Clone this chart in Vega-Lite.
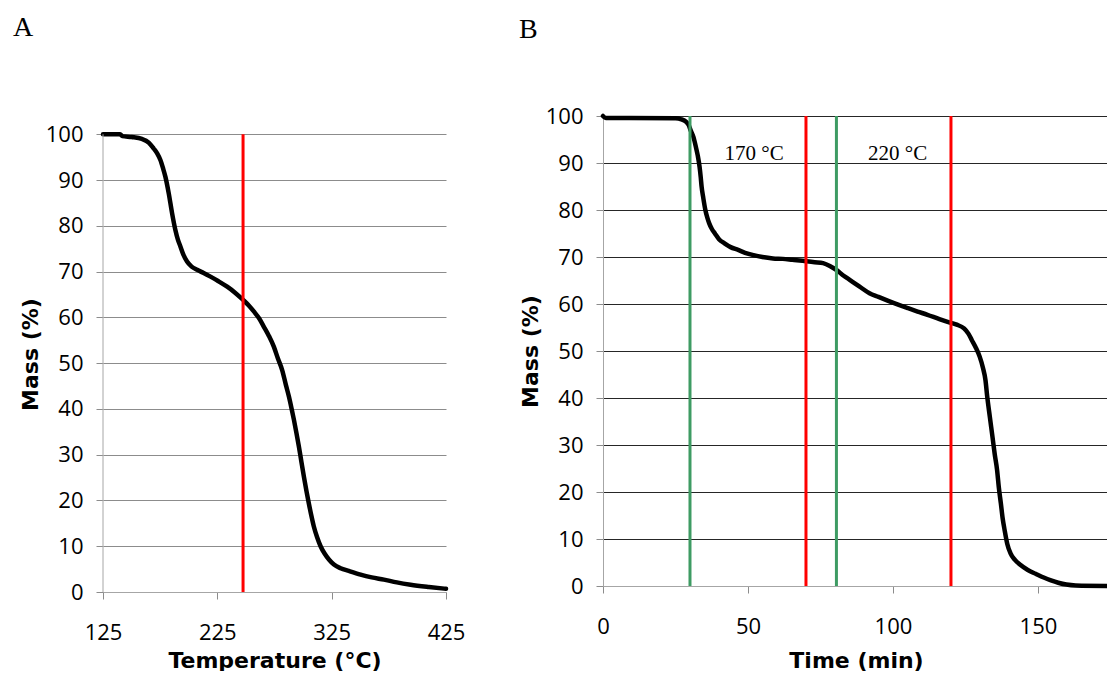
{
  "$schema": "https://vega.github.io/schema/vega-lite/v6.json",
  "background": "#ffffff",
  "padding": {"left": 13, "top": 14, "right": 0, "bottom": 0},
  "config": {
    "view": {"stroke": null},
    "concat": {"spacing": 54},
    "axis": {
      "labelFont": "Open Sans",
      "labelFontSize": 22,
      "labelColor": "#000000",
      "titleFont": "DejaVu Sans",
      "titleFontSize": 22,
      "titleFontWeight": "bold",
      "titleColor": "#000000",
      "tickSize": 7,
      "tickColor": "#8c8c8c",
      "tickWidth": 1,
      "domainColor": "#a6a6a6",
      "domainWidth": 1,
      "labelOverlap": false,
      "labelFlush": false
    },
    "title": {
      "font": "Liberation Serif",
      "fontSize": 28,
      "fontWeight": "normal",
      "color": "#000000",
      "anchor": "start",
      "frame": "group",
      "baseline": "alphabetic"
    }
  },
  "datasets": {
    "curveA": [
      {"temperature": 125, "mass": 100},
      {"temperature": 140, "mass": 100},
      {"temperature": 142, "mass": 99.6},
      {"temperature": 150, "mass": 99.4},
      {"temperature": 159, "mass": 99.0},
      {"temperature": 165, "mass": 98.2},
      {"temperature": 169.3, "mass": 96.9},
      {"temperature": 172.5, "mass": 95.8},
      {"temperature": 175.2, "mass": 94.4},
      {"temperature": 177.5, "mass": 92.6},
      {"temperature": 179.6, "mass": 90.7},
      {"temperature": 182.5, "mass": 87.1},
      {"temperature": 185.4, "mass": 82.8},
      {"temperature": 188.3, "mass": 79.1},
      {"temperature": 190.5, "mass": 77.0},
      {"temperature": 192.7, "mass": 75.5},
      {"temperature": 195.5, "mass": 73.6},
      {"temperature": 198.5, "mass": 72.2},
      {"temperature": 202.5, "mass": 71.1},
      {"temperature": 207.3, "mass": 70.4},
      {"temperature": 213, "mass": 69.7},
      {"temperature": 219, "mass": 68.9},
      {"temperature": 226, "mass": 67.9},
      {"temperature": 233.6, "mass": 66.7},
      {"temperature": 240.5, "mass": 65.4},
      {"temperature": 247.6, "mass": 63.8},
      {"temperature": 252.5, "mass": 62.6},
      {"temperature": 256.9, "mass": 61.3},
      {"temperature": 261.5, "mass": 59.8},
      {"temperature": 265.6, "mass": 58.0},
      {"temperature": 270, "mass": 56.0},
      {"temperature": 274.4, "mass": 53.6},
      {"temperature": 278, "mass": 51.0},
      {"temperature": 281.7, "mass": 48.5},
      {"temperature": 285, "mass": 45.2},
      {"temperature": 287.6, "mass": 42.7},
      {"temperature": 290, "mass": 40.0},
      {"temperature": 292, "mass": 37.6},
      {"temperature": 294.2, "mass": 34.7},
      {"temperature": 296.3, "mass": 31.8},
      {"temperature": 298.5, "mass": 28.5},
      {"temperature": 300.7, "mass": 25.2},
      {"temperature": 303, "mass": 22.0},
      {"temperature": 305, "mass": 19.4},
      {"temperature": 307.3, "mass": 16.6},
      {"temperature": 309.4, "mass": 14.3},
      {"temperature": 312.2, "mass": 12.0},
      {"temperature": 315.3, "mass": 10.0},
      {"temperature": 318.8, "mass": 8.4},
      {"temperature": 322.6, "mass": 7.1},
      {"temperature": 327, "mass": 6.0},
      {"temperature": 332.8, "mass": 5.2},
      {"temperature": 340, "mass": 4.6},
      {"temperature": 350.3, "mass": 3.8},
      {"temperature": 360, "mass": 3.2},
      {"temperature": 370.7, "mass": 2.7},
      {"temperature": 382, "mass": 2.1},
      {"temperature": 394, "mass": 1.6},
      {"temperature": 410, "mass": 1.1},
      {"temperature": 425, "mass": 0.7}
    ],
    "markerA": [
      {"temperature": 247.5}
    ],
    "curveB": [
      {"time": 0, "mass": 100},
      {"time": 1, "mass": 99.6},
      {"time": 25, "mass": 99.5},
      {"time": 27, "mass": 99.3},
      {"time": 28.6, "mass": 98.8},
      {"time": 29.6, "mass": 98.0},
      {"time": 30.2, "mass": 97.0},
      {"time": 31.2, "mass": 95.5},
      {"time": 32, "mass": 93.5},
      {"time": 32.7, "mass": 91.5},
      {"time": 33.3, "mass": 89.2},
      {"time": 33.7, "mass": 87.0},
      {"time": 34, "mass": 85.0},
      {"time": 34.6, "mass": 82.5},
      {"time": 35.3, "mass": 80.0},
      {"time": 36, "mass": 78.3},
      {"time": 36.6, "mass": 77.2},
      {"time": 37.5, "mass": 76.0},
      {"time": 38.6, "mass": 75.0},
      {"time": 40, "mass": 73.8},
      {"time": 41.9, "mass": 72.9},
      {"time": 44, "mass": 72.1},
      {"time": 46.6, "mass": 71.5},
      {"time": 49, "mass": 70.9},
      {"time": 51.9, "mass": 70.4},
      {"time": 55, "mass": 70.0},
      {"time": 58.6, "mass": 69.7},
      {"time": 62, "mass": 69.6},
      {"time": 65.3, "mass": 69.4},
      {"time": 70.2, "mass": 69.1},
      {"time": 73, "mass": 68.9},
      {"time": 75.9, "mass": 68.7},
      {"time": 78.5, "mass": 68.0},
      {"time": 80.6, "mass": 67.2},
      {"time": 83, "mass": 66.0},
      {"time": 85.2, "mass": 65.1},
      {"time": 88.5, "mass": 63.7},
      {"time": 91.9, "mass": 62.3},
      {"time": 95, "mass": 61.5},
      {"time": 98.6, "mass": 60.6},
      {"time": 102, "mass": 59.8},
      {"time": 105.2, "mass": 59.1},
      {"time": 108.5, "mass": 58.4},
      {"time": 111.9, "mass": 57.7},
      {"time": 116, "mass": 56.8},
      {"time": 119.9, "mass": 56.0},
      {"time": 122, "mass": 55.6},
      {"time": 124.5, "mass": 54.8},
      {"time": 126, "mass": 53.7},
      {"time": 127.2, "mass": 52.3},
      {"time": 128.5, "mass": 50.8},
      {"time": 129.9, "mass": 48.8},
      {"time": 131, "mass": 46.5},
      {"time": 131.9, "mass": 43.8},
      {"time": 132.5, "mass": 40.3},
      {"time": 133.4, "mass": 36.0},
      {"time": 134.3, "mass": 31.8},
      {"time": 135.1, "mass": 28.0},
      {"time": 135.9, "mass": 24.7},
      {"time": 136.5, "mass": 21.0},
      {"time": 137.2, "mass": 17.6},
      {"time": 137.8, "mass": 14.5},
      {"time": 138.5, "mass": 11.9},
      {"time": 139.4, "mass": 9.0},
      {"time": 140.5, "mass": 7.0},
      {"time": 142, "mass": 5.6},
      {"time": 143.9, "mass": 4.5},
      {"time": 146.5, "mass": 3.4},
      {"time": 149.2, "mass": 2.6},
      {"time": 152, "mass": 1.8},
      {"time": 154.5, "mass": 1.2},
      {"time": 157, "mass": 0.7},
      {"time": 159.8, "mass": 0.3},
      {"time": 163, "mass": 0.1},
      {"time": 174.5, "mass": 0}
    ],
    "startB": [
      {"time": 30},
      {"time": 80.5}
    ],
    "endB": [
      {"time": 70},
      {"time": 120}
    ],
    "labelsB": [
      {"time": 52.1, "mass": 90.6, "label": "170 °C"},
      {"time": 101.6, "mass": 90.6, "label": "220 °C"}
    ]
  },
  "hconcat": [
    {
      "width": 343,
      "height": 476,
      "title": {"text": "A", "dx": -90, "offset": 74},
      "layer": [
        {
          "data": {"name": "curveA"},
          "mark": {"type": "line", "color": "#000000", "strokeWidth": 4.5, "interpolate": "monotone", "strokeCap": "round"},
          "encoding": {
            "x": {
              "field": "temperature", "type": "quantitative",
              "scale": {"domain": [125, 425], "nice": false, "zero": false},
              "axis": {"values": [125, 225, 325, 425], "title": "Temperature (°C)", "grid": false, "labelPadding": 23, "titlePadding": 7}
            },
            "y": {
              "field": "mass", "type": "quantitative",
              "scale": {"domain": [0, 104], "nice": false},
              "axis": {"values": [0, 10, 20, 30, 40, 50, 60, 70, 80, 90, 100], "title": "Mass (%)", "grid": true, "gridColor": "#8c8c8c", "domain": false, "labelPadding": 13, "titlePadding": 2.5}
            }
          }
        },
        {
          "data": {"values": [{}]},
          "mark": {"type": "rule", "color": "#a6a6a6", "strokeWidth": 1},
          "encoding": {
            "x": {"datum": 125, "type": "quantitative"},
            "y": {"datum": 0, "type": "quantitative"},
            "y2": {"datum": 100}
          }
        },
        {
          "data": {"name": "markerA"},
          "mark": {"type": "rule", "color": "#ff0000", "strokeWidth": 3},
          "encoding": {
            "x": {"field": "temperature", "type": "quantitative"},
            "y": {"datum": 0, "type": "quantitative"},
            "y2": {"datum": 100}
          }
        }
      ]
    },
    {
      "width": 506,
      "height": 470,
      "title": {"text": "B", "dx": -84, "offset": 61},
      "layer": [
        {
          "data": {"name": "curveB"},
          "mark": {"type": "line", "color": "#000000", "strokeWidth": 4.5, "interpolate": "monotone", "strokeCap": "round"},
          "encoding": {
            "x": {
              "field": "time", "type": "quantitative",
              "scale": {"domain": [0, 174.5], "nice": false, "zero": false},
              "axis": {"values": [0, 50, 100, 150], "title": "Time (min)", "grid": false, "labelPadding": 23, "titlePadding": 13}
            },
            "y": {
              "field": "mass", "type": "quantitative",
              "scale": {"domain": [0, 100], "nice": false},
              "axis": {
                "values": [0, 10, 20, 30, 40, 50, 60, 70, 80, 90, 100],
                "title": "Mass (%)", "grid": true,
                "gridColor": {"condition": {"test": "datum.value === 0", "value": "#a6a6a6"}, "value": "#262626"},
                "labelPadding": 13, "titlePadding": 2.5
              }
            }
          }
        },
        {
          "data": {"name": "startB"},
          "mark": {"type": "rule", "color": "#3e9b63", "strokeWidth": 3},
          "encoding": {
            "x": {"field": "time", "type": "quantitative"},
            "y": {"datum": 0, "type": "quantitative"},
            "y2": {"datum": 100}
          }
        },
        {
          "data": {"name": "endB"},
          "mark": {"type": "rule", "color": "#ff0000", "strokeWidth": 3},
          "encoding": {
            "x": {"field": "time", "type": "quantitative"},
            "y": {"datum": 0, "type": "quantitative"},
            "y2": {"datum": 100}
          }
        },
        {
          "data": {"name": "labelsB"},
          "mark": {"type": "text", "font": "Liberation Serif", "fontSize": 21, "color": "#000000", "align": "center", "baseline": "alphabetic"},
          "encoding": {
            "x": {"field": "time", "type": "quantitative"},
            "y": {"field": "mass", "type": "quantitative"},
            "text": {"field": "label"}
          }
        }
      ]
    }
  ]
}
